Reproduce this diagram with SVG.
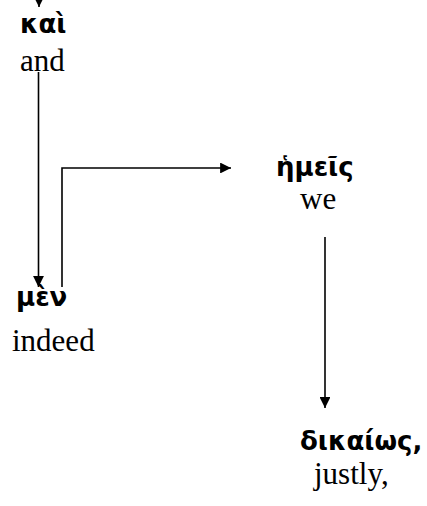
<svg xmlns="http://www.w3.org/2000/svg" width="427" height="506" viewBox="0 0 427 506">
<style>
.gk{font-family:"DejaVu Sans","Noto Sans",sans-serif;font-weight:bold;font-size:26px;fill:#000}
.en{font-family:"Liberation Serif","Times New Roman",serif;font-size:31px;fill:#000}
.ln{stroke:#000;stroke-width:1.6;fill:none}
</style>
<defs>
<marker id="ah" viewBox="0 0 10 10" refX="10" refY="5" markerWidth="6.8" markerHeight="6.8" orient="auto" markerUnits="strokeWidth">
<path d="M0,0 L10,5 L0,10 z" fill="#000"/>
</marker>
</defs>
<g id="connectors">
<path class="ln" d="M39,-10 V7" marker-end="url(#ah)"/>
<path class="ln" d="M38.5,72 V287" marker-end="url(#ah)"/>
<path class="ln" d="M62,287 V168 H231" marker-end="url(#ah)"/>
<path class="ln" d="M325,237 V408" marker-end="url(#ah)"/>
</g>
<g id="node-kai">
<text class="gk" x="20" y="33">καὶ</text>
<text class="en" x="20" y="71">and</text>
</g>
<g id="node-men">
<text class="gk" x="16" y="306">μὲν</text>
<text class="en" x="12" y="351">indeed</text>
</g>
<g id="node-hemeis">
<text class="gk" x="276" y="176">ἡμεῖς</text>
<text class="en" x="300" y="209">we</text>
</g>
<g id="node-dikaios">
<text class="gk" x="300" y="450">δικαίως,</text>
<text class="en" x="314" y="484">justly,</text>
</g>
</svg>
